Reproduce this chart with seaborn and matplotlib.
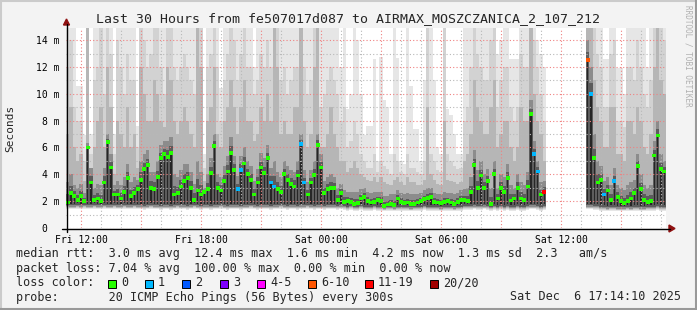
import numpy as np
import pandas as pd
import matplotlib
matplotlib.use("Agg")
import matplotlib.pyplot as plt
import matplotlib.dates as mdates
from matplotlib.patches import Polygon, Rectangle
from matplotlib.lines import Line2D
import seaborn as sns

nan = float("nan")

# ---------------- data (10-minute slots, Fri 11:14 -> Sat 17:14) ----------------
start_time = "2025-12-05 11:14:10"
end_time = "2025-12-06 17:14:10"

median_ms = [
    1.9, 2.6, 2.4, 2.1, 2.4, 2.0, 6.0, 3.4, 2.1, 2.2,
    2.0, 3.4, 6.4, 4.5, 2.5, 2.5, 2.2, 2.7, 3.7, 2.4,
    2.6, 2.9, 3.6, 4.4, 4.7, 3.0, 2.9, 3.8, 5.2, 5.5,
    5.3, 5.6, 2.5, 2.6, 3.1, 3.5, 3.7, 3.0, 2.1, 2.8,
    2.5, 2.7, 2.9, 4.1, 6.1, 3.0, 2.8, 3.5, 4.2, 5.6,
    4.3, 2.9, 4.3, 4.8, 4.0, 3.6, 2.5, 3.4, 4.5, 4.1,
    5.2, 3.4, 3.1, 2.9, 2.7, 4.0, 3.6, 3.3, 3.1, 3.9,
    6.25, 3.4, 2.5, 3.4, 3.95, 6.2, 4.5, 2.6, 2.9, 3.0,
    3.0, 2.1, 2.6, 1.95, 2.0, 1.95, 1.8, 1.85, 2.2, 2.3,
    2.0, 1.9, 1.95, 2.1, 2.0, 1.65, 1.75, 1.8, 1.7, 2.2,
    1.95, 1.85, 1.9, 1.8, 1.8, 1.9, 2.0, 2.15, 2.25, 2.3,
    1.95, 1.9, 1.85, 1.95, 2.0, 1.9, 1.8, 1.95, 2.1, 2.1,
    2.0, 2.7, 4.7, 3.0, 3.9, 3.0, 3.5, 1.8, 4.0, 2.2,
    3.0, 2.7, 3.75, 2.05, 2.2, 3.0, 2.2, 2.1, 3.1, 8.5,
    5.5, 4.2, 2.5, 2.7, nan, nan, nan, nan, nan, nan,
    nan, nan, nan, nan, nan, nan, 12.5, 10.0, 5.2, 3.4,
    3.6, 2.5, 2.8, 2.1, 3.5, 2.3, 2.0, 1.85, 2.0, 2.2,
    2.6, 4.6, 2.9, 2.1, 1.95, 2.0, 5.4, 6.9, 4.4, 4.2,
]

lost_pings = [
    0, 0, 0, 0, 0, 0, 0, 0, 0, 0,
    0, 0, 0, 0, 0, 0, 0, 0, 0, 0,
    0, 0, 0, 0, 0, 0, 0, 0, 0, 0,
    0, 0, 0, 0, 0, 0, 0, 0, 0, 0,
    0, 0, 0, 0, 0, 0, 0, 0, 0, 0,
    0, 1, 1, 0, 0, 0, 0, 0, 0, 0,
    0, 1, 1, 0, 0, 0, 0, 0, 0, 0,
    1, 1, 0, 0, 0, 0, 0, 0, 0, 0,
    0, 0, 0, 0, 0, 0, 0, 0, 0, 0,
    0, 0, 0, 0, 0, 0, 0, 0, 0, 0,
    0, 0, 0, 0, 0, 0, 0, 0, 0, 0,
    0, 0, 0, 0, 0, 0, 0, 0, 0, 0,
    0, 0, 0, 0, 0, 0, 0, 0, 0, 0,
    0, 0, 0, 0, 0, 0, 0, 0, 0, 0,
    1, 1, 0, 12, 0, 0, 0, 0, 0, 0,
    0, 0, 0, 0, 0, 0, 8, 1, 0, 0,
    0, 1, 0, 0, 1, 0, 0, 0, 0, 0,
    0, 0, 0, 0, 0, 0, 0, 0, 0, 0,
]

# smoke: lowest ping, and upper extents of dark / mid / light grey bands, and max ping
low_ms = [
    1.45, 1.4, 1.4, 1.45, 1.4, 1.45, 1.4, 1.4, 1.45, 1.4,
    1.4, 1.45, 1.4, 1.4, 1.45, 1.4, 1.4, 1.45, 1.4, 1.4,
    1.45, 1.4, 1.4, 1.35, 1.4, 1.45, 1.4, 1.4, 1.35, 1.4,
    1.4, 1.35, 1.4, 1.45, 1.4, 1.4, 1.35, 1.4, 1.45, 1.4,
    1.35, 1.4, 1.4, 1.35, 1.4, 1.4, 1.45, 1.4, 1.35, 1.4,
    1.4, 1.4, 1.35, 1.4, 1.4, 1.45, 1.4, 1.35, 1.4, 1.4,
    1.4, 1.35, 1.4, 1.4, 1.45, 1.4, 1.35, 1.4, 1.4, 1.35,
    1.4, 1.4, 1.45, 1.4, 1.35, 1.4, 1.4, 1.35, 1.4, 1.4,
    1.4, 1.35, 1.4, 1.35, 1.3, 1.35, 1.3, 1.3, 1.35, 1.3,
    1.3, 1.3, 1.35, 1.3, 1.3, 1.25, 1.3, 1.3, 1.25, 1.3,
    1.3, 1.3, 1.3, 1.25, 1.3, 1.3, 1.3, 1.35, 1.3, 1.3,
    1.3, 1.3, 1.25, 1.3, 1.3, 1.3, 1.25, 1.3, 1.3, 1.35,
    1.35, 1.35, 1.4, 1.35, 1.35, 1.4, 1.35, 1.3, 1.35, 1.3,
    1.35, 1.3, 1.35, 1.3, 1.3, 1.35, 1.3, 1.3, 1.35, 1.4,
    1.4, 1.35, 1.3, 1.35, nan, nan, nan, nan, nan, nan,
    nan, nan, nan, nan, nan, nan, 1.4, 1.4, 1.35, 1.35,
    1.3, 1.3, 1.25, 1.3, 1.3, 1.25, 1.25, 1.25, 1.3, 1.25,
    1.3, 1.3, 1.25, 1.25, 1.3, 1.3, 1.3, 1.35, 1.3, 1.3,
]

dark_ms = [
    3.4, 4.0, 3.2, 3.0, 3.3, 2.6, 6.3, 4.5, 3.0, 3.3,
    3.2, 4.5, 7.0, 5.5, 3.2, 3.5, 3.2, 3.8, 4.8, 3.4,
    3.8, 3.6, 5.0, 5.5, 5.8, 4.2, 4.2, 5.0, 6.2, 6.5,
    6.5, 6.8, 4.0, 3.8, 4.3, 4.8, 4.8, 4.2, 3.3, 5.0,
    4.2, 3.0, 4.0, 5.2, 7.0, 4.0, 3.8, 4.6, 5.4, 6.8,
    5.4, 3.9, 5.4, 6.0, 5.0, 4.6, 3.5, 4.4, 5.6, 5.2,
    6.2, 4.5, 5.0, 4.2, 3.8, 5.0, 4.6, 4.3, 4.2, 5.0,
    7.0, 4.3, 3.4, 4.3, 5.0, 7.0, 5.5, 3.5, 3.8, 4.0,
    3.8, 3.0, 3.3, 2.8, 2.7, 2.7, 2.7, 2.7, 2.9, 3.0,
    2.7, 2.6, 2.7, 2.7, 2.7, 2.4, 2.4, 2.5, 2.5, 2.8,
    2.6, 2.5, 2.6, 2.5, 2.5, 2.5, 2.6, 2.8, 3.0, 3.0,
    2.6, 2.5, 2.5, 2.7, 2.6, 2.6, 2.5, 2.6, 2.8, 2.9,
    3.0, 3.8, 5.8, 4.3, 5.0, 4.0, 4.4, 3.0, 5.0, 3.0,
    4.0, 3.8, 4.8, 3.2, 3.0, 4.0, 3.4, 3.2, 4.2, 9.5,
    6.5, 5.0, 3.4, 3.5, nan, nan, nan, nan, nan, nan,
    nan, nan, nan, nan, nan, nan, 14.0, 12.0, 7.0, 5.0,
    4.6, 3.5, 3.8, 3.2, 4.5, 3.2, 3.0, 2.8, 3.2, 3.4,
    3.6, 5.5, 4.0, 3.2, 3.0, 3.2, 6.5, 8.0, 5.5, 5.0,
]

mid_ms = [
    7, 9, 6, 5, 5.5, 3.5, 15, 4.5, 6, 8,
    9, 6, 12, 9, 4.0, 8, 7, 6, 9, 6,
    7, 4.5, 12, 10, 8, 8, 11, 10, 8, 7.5,
    12, 11, 8, 7, 8, 9, 8, 7, 6, 15,
    12, 3.5, 8, 9, 12, 7, 6, 8, 9, 11,
    9, 7, 9, 11, 8, 8, 6.5, 7, 9, 8,
    10, 8, 15, 12, 7, 8, 7, 7, 9, 9,
    15, 8, 6, 7, 12, 15, 6, 6, 7, 9,
    7, 6, 5, 5, 4.2, 4.5, 5, 4.5, 4.0, 3.8,
    3.6, 3.5, 3.8, 3.4, 3.8, 3.4, 3.3, 3.2, 3.6, 3.8,
    3.4, 3.2, 3.8, 3.4, 3.4, 3.2, 3.2, 3.6, 9, 4.0,
    3.6, 3.3, 3.2, 8, 3.6, 3.5, 3.4, 3.3, 3.4, 5,
    5.5, 7, 11, 9, 8, 7, 7, 9, 11, 6,
    7, 8, 8, 6, 5, 6, 9, 8, 8, 15,
    10, 8, 7, 5, nan, nan, nan, nan, nan, nan,
    nan, nan, nan, nan, nan, nan, 15, 15, 11, 9,
    8, 6, 6, 9, 9, 5.5, 5.5, 5, 8, 8,
    7, 9, 8, 6, 5.5, 7, 12, 15, 11, 10,
]

high_ms = [
    12, 14, 9, 8, 8, 5, 15, 5.5, 11, 12,
    15, 10, 15, 13, 5.5, 14, 12, 10, 13, 11,
    11, 6, 15, 14, 12, 13, 15, 15, 12, 10,
    15, 15, 12, 11, 12, 13, 12, 11, 10, 15,
    15, 4.5, 12, 13, 15, 12, 8, 11, 13, 15,
    14, 11, 13, 15, 12, 12, 10, 11, 13, 12,
    14, 12, 15, 15, 11, 12, 10, 11, 12, 12,
    15, 12, 10, 11, 15, 15, 9, 10, 11, 12,
    11, 10, 8, 9, 6, 6.5, 8, 7, 5.5, 5.0,
    4.5, 4.5, 5.5, 4.2, 5.0, 4.6, 4.4, 4.0, 5.5, 5.0,
    4.2, 4.0, 5.5, 4.5, 4.5, 4.2, 4.0, 5.0, 15, 5.5,
    5.0, 4.3, 4.2, 15, 5.5, 5.0, 4.6, 4.4, 4.5, 8,
    9, 12, 15, 13, 12, 11, 11, 14, 15, 9,
    11, 12, 12, 9, 8, 9, 13, 12, 12, 15,
    14, 12, 10, 8, nan, nan, nan, nan, nan, nan,
    nan, nan, nan, nan, nan, nan, 15, 15, 15, 13,
    12, 9, 9, 13, 14, 8, 8, 7.5, 12, 12,
    11, 14, 12, 10, 9, 11, 15, 15, 15, 14,
]

top_ms = [
    15, 15, 15, 10.6, 10.6, 6.9, 15, 7.0, 15, 15,
    15, 15, 15, 15, 7.0, 15, 15, 15, 15, 15,
    15, 7.6, 15, 15, 15, 15, 15, 15, 15, 15,
    15, 15, 15, 15, 15, 15, 15, 15, 15, 15,
    15, 5.5, 15, 15, 15, 15, 10.4, 15, 15, 15,
    15, 15, 15, 15, 15, 15, 12, 15, 15, 15,
    15, 15, 15, 15, 15, 15, 15, 15, 15, 15,
    15, 15, 15, 15, 15, 15, 15, 15, 15, 15,
    15, 15, 12, 15, 8.9, 10, 15, 14, 10, 6.9,
    7.6, 7.6, 12.6, 5.0, 12.75, 9.5, 9.0, 5.5, 15, 12.7,
    5.0, 4.8, 15, 10.6, 7.4, 7.4, 5.0, 11, 15, 15,
    11, 6.0, 5.5, 15, 8.9, 8.4, 7.0, 5.5, 5.5, 15,
    15, 15, 15, 15, 15, 15, 15, 15, 15, 13,
    14, 15, 15, 12.6, 12.6, 12.6, 15, 15, 15, 15,
    15, 14, 13, 12, nan, nan, nan, nan, nan, nan,
    nan, nan, nan, nan, nan, nan, 15, 15, 15, 15,
    15, 12.6, 12.6, 15, 15, 11.9, 11.9, 10, 15, 15,
    15, 15, 15, 15, 12, 15, 15, 15, 15, 15,
]

loss_labels = ["0", "1", "2", "3", "4-5", "6-10", "11-19", "20/20"]
loss_colors = ["#26ff00", "#00b8ff", "#0059ff", "#7e00ff", "#ff00ff", "#ff5500", "#ff0000", "#a10000"]

y_ticks = [0, 2, 4, 6, 8, 10, 12, 14]
y_tick_labels = ["0  ", "2 m", "4 m", "6 m", "8 m", "10 m", "12 m", "14 m"]

title = "Last 30 Hours from fe507017d087 to AIRMAX_MOSZCZANICA_2_107_212"
legend_rtt = "median rtt:  3.0 ms avg  12.4 ms max  1.6 ms min  4.2 ms now  1.3 ms sd  2.3   am/s"
legend_loss = "packet loss: 7.04 % avg  100.00 % max  0.00 % min  0.00 % now"
legend_probe = "probe:       20 ICMP Echo Pings (56 Bytes) every 300s"
stamp = "Sat Dec  6 17:14:10 2025"

# ---------------- figure ----------------
sns.set_style("white")
plt.rcParams["font.family"] = ["DejaVu Sans Mono", "DejaVu Sans"]

W, H = 697, 310
fig = plt.figure(figsize=(W / 100, H / 100), dpi=100, facecolor="#f3f3f3")


def fx(px):
    return px / W


def fy(py):
    return 1 - py / H


ax = fig.add_axes([fx(66), fy(228), 600 / W, 200 / H])
ax.set_facecolor("white")

times = pd.date_range(start_time, periods=len(median_ms), freq="10min")
xnum = mdates.date2num(times.to_pydatetime())
slot = 10 / 1440.0

med = np.array(median_ms, float)
low = np.array(low_ms, float)
dark = np.maximum(np.array(dark_ms, float), med)
mid = np.maximum(np.array(mid_ms, float), dark)
high = np.maximum(np.array(high_ms, float), mid)
top = np.maximum(np.array(top_ms, float), high)
ok = ~np.isnan(med)


def band(bottom, upper, color, frac=1.0, z=1):
    ax.bar(xnum[ok] + slot * (1 - frac) / 2, (upper - bottom)[ok], bottom=bottom[ok],
           width=slot * frac, align="edge", color=color, linewidth=0,
           antialiased=False, zorder=z)


band(low, top, "#e6e6e6")
band(low + 0.06, high, "#d2d2d2")
band(low + 0.12, mid, "#b6b6b6")
band(low + 0.2, dark, "#8c8c8c")
band(low + 0.3, med + 0.4 * (dark - med), "#5c5c5c")
band(low + 0.42, med + 0.05, "#262626", frac=0.45)


def loss_cat(n):
    if n == 0:
        return "0"
    if n == 1:
        return "1"
    if n == 2:
        return "2"
    if n == 3:
        return "3"
    if n <= 5:
        return "4-5"
    if n <= 10:
        return "6-10"
    if n <= 19:
        return "11-19"
    return "20/20"


df = pd.DataFrame({
    "t": xnum + slot / 2,
    "median": med,
    "loss": [loss_cat(n) for n in lost_pings],
})[ok]
sns.scatterplot(data=df, x="t", y="median", hue="loss",
                palette=dict(zip(loss_labels, loss_colors)), marker="s", s=7,
                linewidth=0, legend=False, ax=ax, zorder=6)

t0 = mdates.date2num(pd.Timestamp(start_time).to_pydatetime())
t1 = mdates.date2num(pd.Timestamp(end_time).to_pydatetime())
ax.set_xlim(t0, t1)
ax.set_ylim(0, 14.9)
ax.set_xlabel("")
ax.set_ylabel("")

ax.set_yticks(y_ticks)
ax.set_yticklabels(y_tick_labels)
ax.set_yticks([1, 3, 5, 7, 9, 11, 13], minor=True)

ax.xaxis.set_major_locator(mdates.HourLocator(byhour=range(0, 24, 3)))
ax.xaxis.set_minor_locator(mdates.HourLocator(byhour=[h for h in range(24) if h % 3]))


def xfmt(v, pos=None):
    d = mdates.num2date(v)
    return d.strftime("%a %H:%M") if d.hour % 6 == 0 else ""


ax.xaxis.set_major_formatter(plt.FuncFormatter(xfmt))

ax.set_axisbelow(False)
ax.grid(which="major", color="#f08080", linestyle=(0, (1, 2)), linewidth=0.8, zorder=4)
ax.grid(which="minor", color="#b8b8b8", linestyle=(0, (1, 2)), linewidth=0.8, zorder=3)

ax.tick_params(axis="both", which="both", direction="inout", labelsize=7, colors="black")
ax.tick_params(axis="y", which="major", length=3, width=0.8, pad=3, color="#e07070")
ax.tick_params(axis="y", which="minor", length=2, width=0.8, color="#999999")
ax.tick_params(axis="x", which="major", length=4, width=0.8, pad=3, color="#e07070")
ax.tick_params(axis="x", which="minor", length=2, width=0.8, color="#999999")
for s in ax.spines.values():
    s.set_visible(False)

# axes with arrows
fig.add_artist(Line2D([fx(62), fx(670)], [fy(228.5), fy(228.5)], color="black", lw=1.0))
fig.add_artist(Line2D([fx(66.5), fx(66.5)], [fy(232), fy(24)], color="black", lw=1.0))
fig.add_artist(Polygon([[fx(669), fy(225)], [fx(675), fy(228.5)], [fx(669), fy(232)]],
                       closed=True, color="#8e1010", transform=fig.transFigure))
fig.add_artist(Polygon([[fx(63.5), fy(25)], [fx(66.5), fy(19)], [fx(69.5), fy(25)]],
                       closed=True, color="#8e1010", transform=fig.transFigure))

# border shading
fig.add_artist(Line2D([0, 1], [fy(0.5), fy(0.5)], color="#cbcbcb", lw=1.5))
fig.add_artist(Line2D([fx(0.5), fx(0.5)], [0, 1], color="#cbcbcb", lw=1.5))
fig.add_artist(Line2D([0, 1], [fy(309.3), fy(309.3)], color="#999999", lw=1.5))
fig.add_artist(Line2D([fx(696.3), fx(696.3)], [0, 1], color="#999999", lw=1.5))

# texts
fig.text(fx(348.5), fy(18.5), title, ha="center", va="center", fontsize=9.5)
fig.text(fx(10), fy(128), "Seconds", rotation=90, ha="center", va="center", fontsize=8)
fig.text(fx(688), fy(5), "RRDTOOL / TOBI OETIKER", rotation=-90, ha="center", va="top",
         fontsize=5.5, color="#b0b0b0")

lx = 16
fs = 8.5
fig.text(fx(lx), fy(254), legend_rtt, ha="left", va="center", fontsize=fs)
fig.text(fx(lx), fy(268.5), legend_loss, ha="left", va="center", fontsize=fs)
fig.text(fx(lx), fy(283), "loss color:", ha="left", va="center", fontsize=fs)
fig.text(fx(lx), fy(297), legend_probe, ha="left", va="center", fontsize=fs)
fig.text(fx(681), fy(297), stamp, ha="right", va="center", fontsize=fs)

box_x = [108, 145, 182, 220, 257, 308, 365, 430]
for bx, lab, col in zip(box_x, loss_labels, loss_colors):
    fig.add_artist(Rectangle((fx(bx), fy(287.5)), 8 / W, 8 / H, transform=fig.transFigure,
                             facecolor=col, edgecolor="black", linewidth=0.7))
    fig.text(fx(bx + 13), fy(283), lab, ha="left", va="center", fontsize=fs)

fig.savefig("out.png", dpi=100, facecolor=fig.get_facecolor())
